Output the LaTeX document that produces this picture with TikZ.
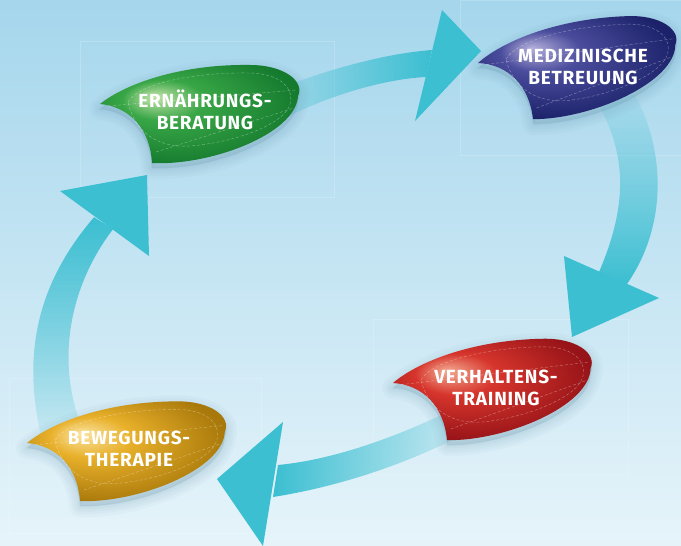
\documentclass[tikz,border=0pt]{standalone}
\usepackage{fontspec}
\newfontfamily\labelfont[LetterSpace=4]{Fira Sans}
\usetikzlibrary{fadings}

\definecolor{bgtop}{HTML}{A5D6EC}
\definecolor{bgbot}{HTML}{E6F4FA}
\definecolor{flow}{HTML}{3BBFD1}
\definecolor{leafshade}{HTML}{5F8EA6}
\definecolor{greenhl}{HTML}{C4E3AA}\definecolor{greenmd}{HTML}{38A646}\definecolor{greendk}{HTML}{147A2E}
\definecolor{bluehl}{HTML}{B4B1DB}\definecolor{bluemd}{HTML}{4A4C9C}\definecolor{bluedk}{HTML}{1C226A}
\definecolor{redhl}{HTML}{F3AB92}\definecolor{redmd}{HTML}{D6352C}\definecolor{reddk}{HTML}{961318}
\definecolor{goldhl}{HTML}{FBE4A2}\definecolor{goldmd}{HTML}{E8B02A}\definecolor{golddk}{HTML}{A8780A}

% glossy leaf shading, highlight towards the upper left
\pgfdeclareradialshading[leafhl,leafmd,leafdk]{leafglow}{\pgfpoint{-12bp}{9bp}}%
  {color(0bp)=(leafhl); color(10bp)=(leafmd); color(29bp)=(leafdk); color(50bp)=(leafdk)}

% arrow bands fade out towards their tails
\tikzfading[name=bandfade, left color=transparent!92, middle color=transparent!45, right color=transparent!0]

% leaf outline, local coordinates measured from the pointed tip
\newcommand\leafoutline{(0,0) .. controls (25,-20) and (80,-40) .. (150,-39)
  .. controls (185,-39) and (205,-22) .. (198,-8)
  .. controls (196,30) and (110,62) .. (52,59)
  .. controls (50,25) and (30,3) .. (0,0) -- cycle}
\newcommand\leafinner{(28,-2) .. controls (40,-22) and (100,-32) .. (150,-31)
  .. controls (185,-30) and (194,-12) .. (190,0)
  .. controls (186,18) and (140,38) .. (90,42)
  .. controls (60,44) and (35,30) .. (28,-2) -- cycle}
\newcommand\leafcross{(8,2) -- (196,-14) (56,48) -- (194,4)}

\tikzset{
  leaflabel/.style={text=white, align=center, inner sep=0pt,
    font=\labelfont\bfseries\fontsize{19}{22}\selectfont},
  leafhalo/.style={fill=leafshade, draw=leafshade, line join=round,
    line width=#1, opacity=0.045, yshift=-5pt},
  leafdash/.style={draw=white, opacity=0.4, line width=0.4pt, dash pattern=on 3pt off 2pt},
  bandfill/.style={fill=flow, path fading=bandfade, fading angle=#1},
  headfill/.style={fill=flow},
  guide/.style={draw=white, opacity=0.18, line width=0.5pt}
}

% #1 tip position, #2 tilt, #3 colour family
\newcommand\drawleaf[3]{%
  \begin{scope}[shift={#1}, rotate=#2]
    \colorlet{leafhl}{#3hl}\colorlet{leafmd}{#3md}\colorlet{leafdk}{#3dk}
    \foreach \w in {22,16,11,6,2} {\path[leafhalo=\w pt] \leafoutline;}
    \shade[shading=leafglow] \leafoutline;
    \path[leafdash] \leafinner;
    \path[leafdash] \leafcross;
  \end{scope}}

\begin{document}
\begin{tikzpicture}[x=1pt, y=-1pt]
  \useasboundingbox (0,0) rectangle (681,546);
  \shade[top color=bgtop, bottom color=bgbot] (0,0) rectangle (681,546);

  % faint layout frames
  \begin{scope}
    \clip (0,0) rectangle (681,546);
    \path[guide] (80,41) rectangle (334,197);
    \path[guide] (460,0) rectangle (700,155);
    \path[guide] (373,319) rectangle (628,474);
    \path[guide] (9,378) rectangle (261,533);
  \end{scope}

  % arrow: nutrition -> medical care
  \path[bandfill=0] (270,92) .. controls (320,72) and (380,54) .. (432,50)
    -- (426,77) .. controls (385,79) and (330,95) .. (285,118) -- cycle;
  \coordinate (a1l) at (442,10); \coordinate (a1t) at (481,51); \coordinate (a1r) at (415,121);
  \path[headfill] (a1l) -- (a1t) -- (a1r) -- cycle;

  % arrow: medical care -> behaviour training
  \path[bandfill=-90] (596,100) .. controls (625,150) and (630,200) .. (599,272)
    -- (627,284) .. controls (668,225) and (665,150) .. (635,95) -- cycle;
  \coordinate (a2l) at (564,256); \coordinate (a2t) at (572,337); \coordinate (a2r) at (659,298);
  \path[headfill] (a2l) -- (a2t) -- (a2r) -- cycle;

  % arrow: behaviour training -> exercise therapy
  \path[bandfill=180] (452,410) .. controls (390,440) and (330,460) .. (278,465)
    -- (273,497) .. controls (330,488) and (400,468) .. (468,432) -- cycle;
  \coordinate (a3l) at (283,422); \coordinate (a3t) at (217,479); \coordinate (a3r) at (263,546);
  \path[headfill] (a3l) -- (a3t) -- (a3r) -- cycle;

  % arrow: exercise therapy -> nutrition
  \path[bandfill=90] (42,440) .. controls (20,350) and (40,280) .. (94,217)
    -- (113,229) .. controls (70,285) and (55,360) .. (82,428) -- cycle;
  \coordinate (a4l) at (60,191); \coordinate (a4t) at (147,175); \coordinate (a4r) at (149,256);
  \path[headfill] (a4l) -- (a4t) -- (a4r) -- cycle;

  % leaves
  \drawleaf{(100,104)}{0}{green}
  \drawleaf{(478,63)}{3}{blue}
  \drawleaf{(393,383)}{2}{red}
  \drawleaf{(27,443)}{1}{gold}

  % labels
  \node[leaflabel] (ern) at (205,110) {ERNÄHRUNGS-\\BERATUNG};
  \node[leaflabel] (med) at (583,66.5) {MEDIZINISCHE\\BETREUUNG};
  \node[leaflabel] (ver) at (496,387.5) {VERHALTENS-\\TRAINING};
  \node[leaflabel] (bew) at (129,449) {BEWEGUNGS-\\THERAPIE};
\end{tikzpicture}
\end{document}
